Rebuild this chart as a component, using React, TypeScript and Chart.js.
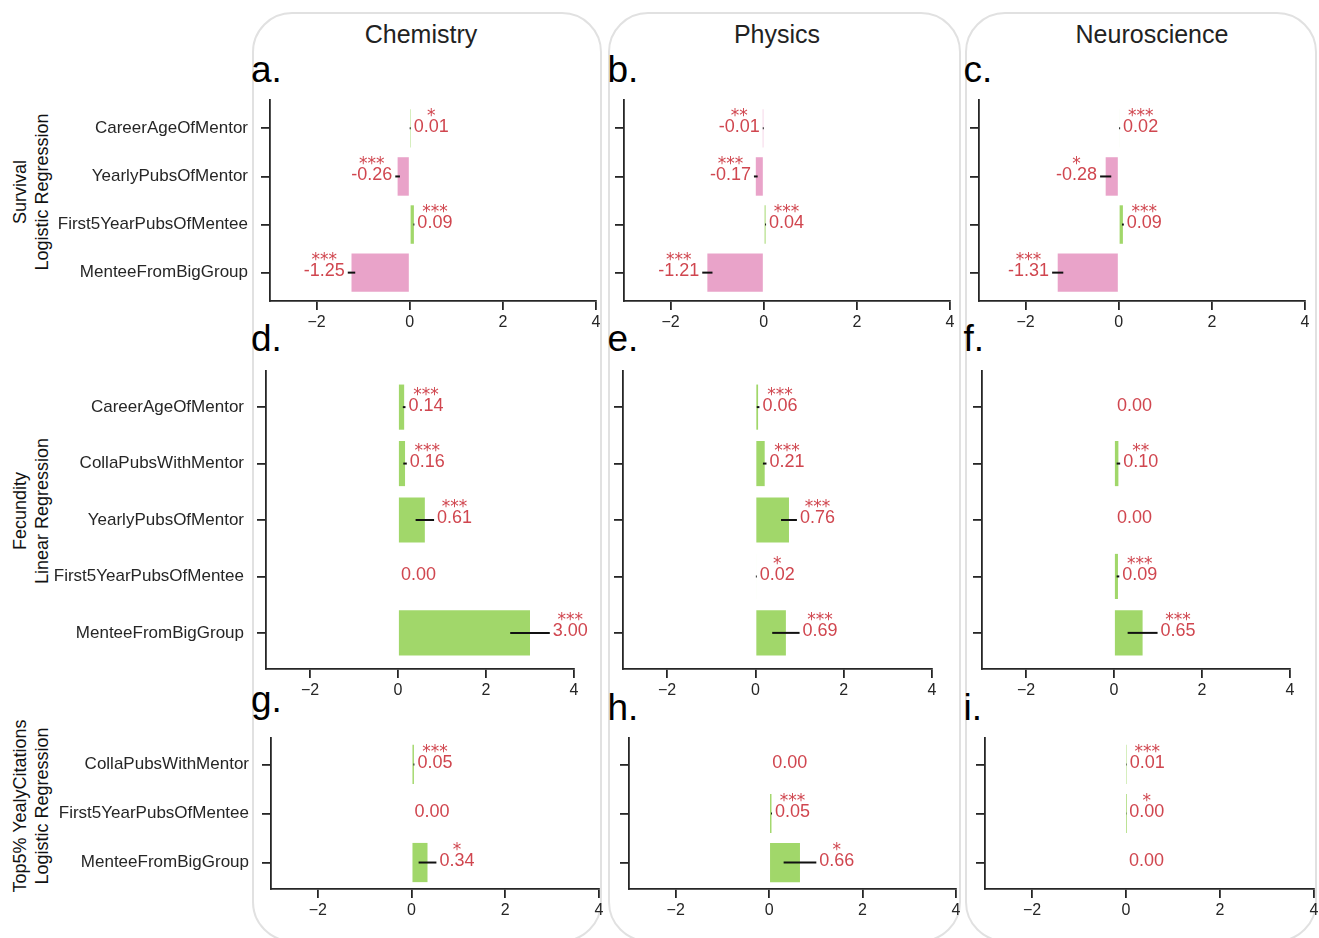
import React, { useEffect, useRef } from 'react';
import { Chart, registerables } from 'chart.js';

Chart.register(...registerables);

// ---------------- data ----------------
const survivalCats = ['CareerAgeOfMentor', 'YearlyPubsOfMentor', 'First5YearPubsOfMentee', 'MenteeFromBigGroup'];
const fecundityCats = ['CareerAgeOfMentor', 'CollaPubsWithMentor', 'YearlyPubsOfMentor', 'First5YearPubsOfMentee', 'MenteeFromBigGroup'];
const citationCats = ['CollaPubsWithMentor', 'First5YearPubsOfMentee', 'MenteeFromBigGroup'];

const columnTitles = ['Chemistry', 'Physics', 'Neuroscience'];
const rowTitles = [
  ['Survival', 'Logistic Regression'],
  ['Fecundity', 'Linear Regression'],
  ['Top5% YealyCitations', 'Logistic Regression'],
];
const panelLetters = ['a.', 'b.', 'c.', 'd.', 'e.', 'f.', 'g.', 'h.', 'i.'];
const xTickValues = [-2, 0, 2, 4];
const xMin = -3;
const xMax = 4;

const chemSurvival = [0.01, -0.26, 0.09, -1.25];
const chemSurvivalErr = [0.01, 0.05, 0.01, 0.08];
const chemSurvivalSig = ['*', '***', '***', '***'];

const physSurvival = [-0.01, -0.17, 0.04, -1.21];
const physSurvivalErr = [0.01, 0.04, 0.01, 0.11];
const physSurvivalSig = ['**', '***', '***', '***'];

const neuroSurvival = [0.02, -0.28, 0.09, -1.31];
const neuroSurvivalErr = [0.01, 0.12, 0.02, 0.12];
const neuroSurvivalSig = ['***', '*', '***', '***'];

const chemFecundity = [0.14, 0.16, 0.61, 0.0, 3.0];
const chemFecundityErr = [0.03, 0.04, 0.21, 0, 0.45];
const chemFecunditySig = ['***', '***', '***', '', '***'];

const physFecundity = [0.06, 0.21, 0.76, 0.02, 0.69];
const physFecundityErr = [0.03, 0.04, 0.18, 0.01, 0.31];
const physFecunditySig = ['***', '***', '***', '*', '***'];

const neuroFecundity = [0.0, 0.1, 0.0, 0.09, 0.65];
const neuroFecundityErr = [0, 0.04, 0, 0.03, 0.34];
const neuroFecunditySig = ['', '**', '', '***', '***'];

const chemCitation = [0.05, 0.0, 0.34];
const chemCitationErr = [0.01, 0, 0.19];
const chemCitationSig = ['***', '', '*'];

const physCitation = [0.0, 0.05, 0.66];
const physCitationErr = [0, 0.01, 0.35];
const physCitationSig = ['', '***', '*'];

const neuroCitation = [0.01, 0.004, 0.0];
const neuroCitationErr = [0.005, 0.003, 0];
const neuroCitationSig = ['***', '*', ''];

// ---------------- style ----------------
const FONT = '"Liberation Sans", Arial, Helvetica, sans-serif';
const PINK = '#e9a3c9';
const GREEN = '#a1d76a';
const RED = '#d0464f';
const INK = '#262626';

type PanelSpec = {
  cats: string[];
  vals: number[];
  errs: number[];
  sigs: string[];
  area: [number, number, number, number]; // left, top, right, bottom of plot area
  showLabels: boolean;
};

const rowAreas: [number, number][] = [
  [100, 301],
  [370.5, 669],
  [737.5, 889],
];
const colAreas: [number, number][][] = [
  [[270, 596], [624, 950], [979, 1305]],
  [[266, 574], [623, 932], [982, 1290]],
  [[271, 599], [629, 956], [985, 1314]],
];

const panelData = [
  [
    { cats: survivalCats, vals: chemSurvival, errs: chemSurvivalErr, sigs: chemSurvivalSig },
    { cats: survivalCats, vals: physSurvival, errs: physSurvivalErr, sigs: physSurvivalSig },
    { cats: survivalCats, vals: neuroSurvival, errs: neuroSurvivalErr, sigs: neuroSurvivalSig },
  ],
  [
    { cats: fecundityCats, vals: chemFecundity, errs: chemFecundityErr, sigs: chemFecunditySig },
    { cats: fecundityCats, vals: physFecundity, errs: physFecundityErr, sigs: physFecunditySig },
    { cats: fecundityCats, vals: neuroFecundity, errs: neuroFecundityErr, sigs: neuroFecunditySig },
  ],
  [
    { cats: citationCats, vals: chemCitation, errs: chemCitationErr, sigs: chemCitationSig },
    { cats: citationCats, vals: physCitation, errs: physCitationErr, sigs: physCitationSig },
    { cats: citationCats, vals: neuroCitation, errs: neuroCitationErr, sigs: neuroCitationSig },
  ],
];

const PAD = 10;
const PAD_T = 40;
const PAD_R = 30;
const XH = 40;

function makeAnnotPlugin(vals: number[], errs: number[], sigs: string[]) {
  return {
    id: 'annot',
    afterDatasetsDraw(chart: any) {
      const { ctx } = chart;
      const xs = chart.scales.x;
      const ys = chart.scales.y;
      const n = vals.length;
      ctx.save();
      vals.forEach((v, i) => {
        const py = ys.getPixelForValue(n - 1 - i);
        const e = errs[i];
        if (e > 0) {
          ctx.beginPath();
          ctx.moveTo(xs.getPixelForValue(v - e), py);
          ctx.lineTo(xs.getPixelForValue(v + e), py);
          ctx.strokeStyle = '#111';
          ctx.lineWidth = 2;
          ctx.stroke();
        }
        const label = v.toFixed(2);
        ctx.font = `18px ${FONT}`;
        const w = ctx.measureText(label).width;
        const left = v < 0 ? xs.getPixelForValue(v - e) - 3 - w : xs.getPixelForValue(v + e) + 3;
        ctx.fillStyle = RED;
        ctx.textAlign = 'left';
        ctx.textBaseline = 'middle';
        ctx.fillText(label, left, py - 1.5);
        if (sigs[i]) {
          ctx.font = '17px "DejaVu Sans"';
          ctx.textAlign = 'center';
          ctx.fillText(sigs[i], left + w / 2, py - 12);
        }
      });
      ctx.restore();
    },
  };
}

function Panel({ spec }: { spec: PanelSpec }) {
  const ref = useRef<HTMLCanvasElement>(null);
  const [aL, aT, aR, aB] = spec.area;
  const YW = spec.showLabels ? 240 : 14;
  const left = aL - YW - PAD;
  const top = aT - PAD_T;
  const width = aR - aL + YW + PAD + PAD_R;
  const height = aB - aT + XH + PAD_T + PAD;
  const n = spec.cats.length;
  const margin = 0.05 * (n - 1 + 0.8) + 0.4;

  useEffect(() => {
    const canvas = ref.current;
    if (!canvas) return;
    const chart = new Chart(canvas, {
      type: 'bar',
      data: {
        datasets: [
          {
            data: spec.vals.map((v, i) => ({ x: v, y: n - 1 - i })),
            backgroundColor: spec.vals.map((v) => (v < 0 ? PINK : GREEN)),
            borderWidth: 0,
            barPercentage: 0.8,
            categoryPercentage: 1,
          },
        ],
      },
      options: {
        indexAxis: 'y',
        responsive: false,
        maintainAspectRatio: false,
        animation: false,
        devicePixelRatio: 1,
        layout: { padding: { left: PAD, top: PAD_T, bottom: PAD, right: PAD_R } },
        plugins: { legend: { display: false }, tooltip: { enabled: false } },
        scales: {
          x: {
            type: 'linear',
            min: xMin,
            max: xMax,
            offset: false,
            afterBuildTicks: (s: any) => {
              s.ticks = xTickValues.map((v) => ({ value: v }));
            },
            afterFit: (s: any) => {
              s.height = XH;
            },
            ticks: {
              autoSkip: false,
              maxRotation: 0,
              padding: 3,
              color: INK,
              font: { family: FONT, size: 16 },
              callback: (v: any) => (v < 0 ? '\u2212' + Math.abs(v) : String(v)),
            },
            grid: { offset: false, drawOnChartArea: false, drawTicks: true, tickLength: 9, color: INK, lineWidth: 1.8 },
            border: { display: true, color: INK, width: 1.8 },
          },
          y: {
            type: 'linear',
            min: -margin,
            max: n - 1 + margin,
            offset: false,
            afterBuildTicks: (s: any) => {
              s.ticks = spec.cats.map((_, i) => ({ value: i }));
            },
            afterFit: (s: any) => {
              s.width = YW;
            },
            ticks: {
              autoSkip: false,
              padding: 13,
              color: INK,
              font: { family: FONT, size: 17 },
              callback: (v: any) => (spec.showLabels ? spec.cats[n - 1 - v] : ''),
            },
            grid: { offset: false, drawOnChartArea: false, drawTicks: true, tickLength: 9, color: INK, lineWidth: 1.8 },
            border: { display: true, color: INK, width: 1.8 },
          },
        },
      } as any,
      plugins: [makeAnnotPlugin(spec.vals, spec.errs, spec.sigs)],
    });
    return () => chart.destroy();
  }, []);

  return (
    <canvas
      ref={ref}
      width={width}
      height={height}
      style={{ position: 'absolute', left, top, width, height }}
    />
  );
}

const boxes = [
  [252, 602],
  [608, 961],
  [965, 1317],
];
const titleCenters = [421, 777, 1152];
const letterLefts = [251, 607.5, 963.5];
const letterBaselines = [82, 351.5, 720];
const rowLabelCenters = [192, 511, 806];

export default function App() {
  const panels: PanelSpec[] = [];
  for (let r = 0; r < 3; r++) {
    for (let c = 0; c < 3; c++) {
      const d = panelData[r][c];
      panels.push({
        ...d,
        area: [colAreas[r][c][0], rowAreas[r][0], colAreas[r][c][1], rowAreas[r][1]],
        showLabels: c === 0,
      });
    }
  }
  return (
    <div
      style={{
        position: 'fixed',
        left: 0,
        top: 0,
        width: 1319,
        height: 938,
        overflow: 'hidden',
        background: '#fff',
        fontFamily: FONT,
      }}
    >
      {boxes.map(([l, r], i) => (
        <div
          key={'box' + i}
          style={{
            position: 'absolute',
            left: l,
            top: 12,
            width: r - l,
            height: 930,
            boxSizing: 'border-box',
            border: '2px solid #e1e1e1',
            borderRadius: 40,
          }}
        />
      ))}
      {columnTitles.map((t, i) => (
        <div
          key={'t' + i}
          style={{
            position: 'absolute',
            left: titleCenters[i],
            top: 43 - 0.8465 * 25,
            transform: 'translateX(-50%)',
            fontSize: 25,
            lineHeight: '25px',
            color: '#222',
            whiteSpace: 'nowrap',
          }}
        >
          {t}
        </div>
      ))}
      {panelLetters.map((t, i) => {
        // letters are bottom-anchored: a descender lifts the baseline
        const descender = /[gjpqy]/.test(t) ? 8 : 0;
        return (
          <div
            key={'l' + i}
            style={{
              position: 'absolute',
              left: letterLefts[i % 3],
              top: letterBaselines[Math.floor(i / 3)] - descender - 0.8465 * 37,
              fontSize: 37,
              lineHeight: '37px',
              color: '#000',
              whiteSpace: 'nowrap',
            }}
          >
            {t}
          </div>
        );
      })}
      {rowTitles.map((lines, i) => (
        <div
          key={'r' + i}
          style={{
            position: 'absolute',
            left: 31,
            top: rowLabelCenters[i],
            transform: 'translate(-50%, -50%) rotate(-90deg)',
            fontSize: 18,
            lineHeight: '21.5px',
            color: '#111',
            whiteSpace: 'pre',
            textAlign: 'center',
          }}
        >
          {lines.join('\n')}
        </div>
      ))}
      {panels.map((p, i) => (
        <Panel key={'p' + i} spec={p} />
      ))}
    </div>
  );
}
